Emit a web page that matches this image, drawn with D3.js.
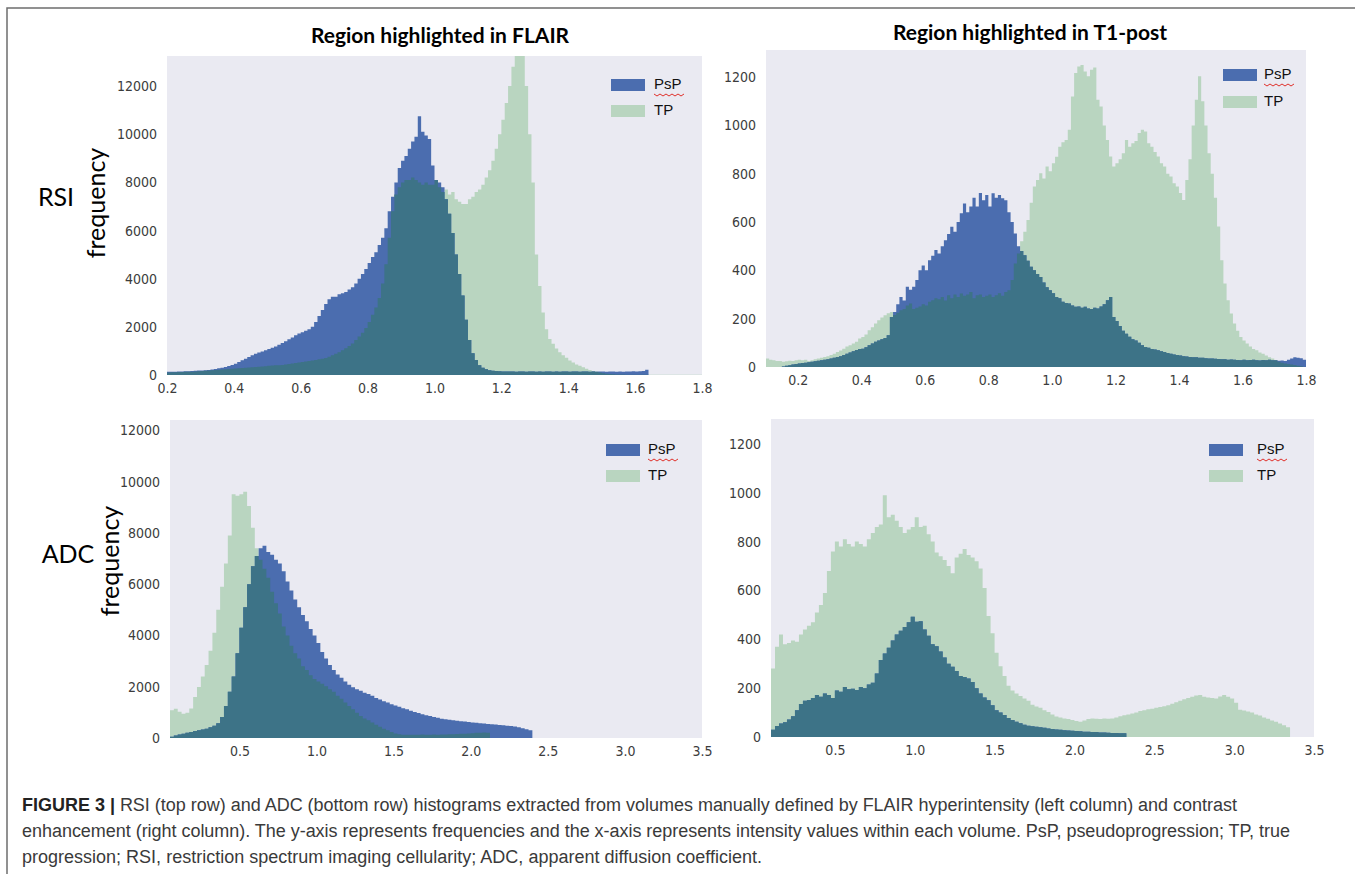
<!DOCTYPE html>
<html>
<head>
<meta charset="utf-8">
<script src="https://cdn.jsdelivr.net/npm/d3@7/dist/d3.min.js"></script>
<style>
  body { margin: 0; background: #fff; }
  .tick text { font-family: "Liberation Sans Narrow", "DejaVu Sans Condensed", sans-serif; font-stretch: condensed; font-size: 14px; fill: #3c3c3c; }
  .legend text { font-family: "Liberation Sans", Arial, sans-serif; font-size: 15px; fill: #111; }
  .title { font-family: Lato, "Open Sans", sans-serif; font-weight: 700; font-size: 21px; fill: #000; }
  .rowlabel { font-family: Lato, "Open Sans", sans-serif; font-size: 25px; fill: #000; }
  .caption { font-family: "Liberation Sans", Arial, sans-serif; font-size: 18px; fill: #3a3a3a; }
</style>
</head>
<body>
<svg id="figure" width="1355" height="874"></svg>
<script>
// histogram bins: each series starts at binStart and steps by binStep

// RSI, region from FLAIR (bins of 0.01 from 0.20)
const rsiFlairStart = 0.20, rsiFlairStep = 0.01;
const rsiFlairPsP = [
  130,140,140,150,150,160,160,170,180,185,
  190,200,210,230,250,280,300,330,370,420,
  470,540,610,680,750,820,880,930,980,1030,
  1080,1130,1180,1260,1330,1400,1480,1560,1650,1720,
  1780,1840,1900,2000,2200,2450,2700,2950,3150,3250,
  3250,3350,3400,3450,3550,3650,3800,4000,4200,4400,
  4650,4900,5100,5400,5700,6100,6800,7400,8000,8600,
  8900,9100,9400,9700,9900,10750,10100,9950,9800,8700,
  8100,8000,7800,7300,6700,5900,5000,4200,3300,2300,
  1450,900,620,400,300,240,200,180,170,160,
  150,150,150,150,140,150,150,140,150,150,
  140,150,140,150,150,140,150,140,150,150,
  140,150,150,140,150,150,140,150,140,150,
  150,140,150,150,140,150,140,150,150,160,
  150,160,170,220
];
const rsiFlairTP = [
  100,110,110,120,120,130,140,140,150,160,
  170,180,190,200,210,220,230,240,250,260,
  270,280,290,300,310,320,330,340,350,360,
  380,390,400,410,420,440,460,480,500,520,
  540,560,580,600,620,650,680,710,760,820,
  880,950,1030,1110,1200,1310,1450,1600,1750,1950,
  2200,2500,2800,3200,3800,4600,5700,6800,7500,7800,
  8000,8100,8100,8200,8100,8000,7900,8000,7900,7900,
  8100,7800,7600,7700,7500,7600,7300,7200,7100,7100,
  7300,7400,7600,7700,7900,8200,8500,8900,9400,10000,
  10600,11300,12000,12800,13400,13600,13300,12000,10000,8000,
  5000,3700,2600,1900,1500,1300,1100,950,820,720,
  600,520,440,380,320,260,210,170,130,100,
  70,50,40,30,25,20,20,15,15,15,
  15,15,15,10,10,10,10,10,10,10,
  10,10,10,10,10,10,10,10,10,10
];

// RSI, region from T1-post (bins of 0.01 from 0.10)
const rsiT1Start = 0.10, rsiT1Step = 0.01;
const rsiT1PsP = [
  0,0,0,0,0,2,5,7,10,12,
  15,17,18,20,22,24,26,28,30,32,
  35,38,41,45,50,55,60,65,70,75,
  76,82,90,97,105,110,115,120,131,207,
  228,260,290,275,332,320,332,360,400,420,
  400,442,460,484,470,500,525,550,580,560,
  600,636,677,640,664,700,664,720,690,712,
  664,719,700,712,698,690,640,600,553,500,
  480,463,440,415,400,385,373,350,330,318,
  305,290,285,270,265,263,255,249,250,245,
  249,242,240,245,242,250,260,276,290,207,
  190,170,150,138,125,115,110,100,90,83,
  80,75,72,69,65,62,58,55,52,50,
  48,45,43,41,40,40,38,38,36,35,
  35,34,33,32,32,30,31,30,29,28,
  30,28,29,30,28,27,29,28,30,28,
  28,26,27,25,30,35,40,38,36,30
];
const rsiT1TP = [
  35,30,28,25,25,22,24,26,25,28,
  30,28,30,25,28,32,35,38,41,45,
  50,55,62,68,76,85,90,97,105,118,
  124,135,152,165,180,194,205,214,222,228,
  215,225,235,240,255,263,240,245,250,260,
  255,270,276,285,280,290,275,297,285,300,
  290,304,295,300,310,285,297,300,290,295,
  300,290,297,305,295,310,318,360,428,470,
  520,560,608,680,747,774,802,780,830,810,
  843,870,912,930,940,982,1120,1217,1244,1250,
  1223,1203,1230,1240,1106,1078,1000,940,871,830,
  843,860,885,940,912,926,935,968,982,975,
  926,912,890,871,843,830,800,788,760,747,
  720,691,774,860,1000,1106,1203,1100,1000,885,
  800,700,581,442,346,276,221,180,150,124,
  110,97,85,75,69,60,55,48,40,35,
  28,22,18,15,12,10,8,5,3,0
];

// ADC, region from FLAIR (bins of 0.025 from 0.05)
const adcFlairStart = 0.05, adcFlairStep = 0.025;
const adcFlairPsP = [
  50,100,140,170,200,230,270,300,330,360,
  420,480,580,820,1250,1800,2400,3300,4300,5100,
  6000,6700,7100,7400,7500,7250,7150,6950,6800,6500,
  6100,5750,5400,5100,4800,4550,4250,4000,3700,3350,
  3100,2850,2650,2480,2350,2200,2080,1980,1900,1840,
  1760,1720,1650,1560,1500,1430,1380,1320,1270,1220,
  1160,1120,1060,1010,970,930,890,860,820,790,
  750,730,710,690,670,650,640,620,600,590,
  580,570,550,540,530,510,500,480,470,450,
  420,380,340,300
];
const adcFlairTP = [
  1080,1140,1020,950,980,1150,1600,1990,2400,2850,
  3400,4100,5000,5900,6800,7900,9500,9450,9500,9600,
  9050,8200,7400,6950,6600,6250,5700,5250,4850,4350,
  4000,3600,3300,3100,2800,2650,2450,2300,2200,2120,
  2020,1900,1800,1650,1530,1380,1250,1120,980,860,
  760,690,600,520,440,360,300,230,180,150,
  130,130,130,130,130,140,130,130,140,130,
  140,140,150,150,160,170,170,180,190,200,
  200,210,200
];

// ADC, region from T1-post (bins of 0.025 from 0.10)
const adcT1Start = 0.10, adcT1Step = 0.025;
const adcT1PsP = [
  30,45,55,60,72,85,110,135,148,152,
  160,172,165,178,172,160,190,185,205,195,
  198,192,205,200,215,222,260,315,342,365,
  395,420,435,450,470,492,472,474,440,415,
  380,372,350,325,300,288,270,250,246,240,
  225,200,178,162,150,130,110,100,90,78,
  70,62,56,50,46,44,42,40,38,35,
  33,31,30,28,27,26,25,24,22,21,
  20,20,18,18,17,16,16,15,15
];
const adcT1TP = [
  280,370,420,380,385,395,390,420,440,455,
  470,510,540,590,680,760,800,780,810,790,
  780,800,790,780,810,835,860,870,990,900,
  910,885,860,835,850,860,900,860,865,830,
  800,755,740,725,700,670,735,750,770,745,
  735,720,690,610,495,425,345,290,250,210,
  190,178,168,158,148,132,125,120,110,102,
  92,84,80,76,74,70,66,62,68,74,
  76,75,74,76,75,76,80,85,89,92,
  96,100,106,110,114,116,120,123,126,130,
  136,142,148,155,160,165,170,172,165,162,
  160,158,166,172,165,158,140,112,108,104,
  100,92,88,80,75,68,62,55,48,40
];

// tick labels
const rsiXTicks = [0.2, 0.4, 0.6, 0.8, 1.0, 1.2, 1.4, 1.6, 1.8];
const adcXTicks = [0.5, 1.0, 1.5, 2.0, 2.5, 3.0, 3.5];
const flairYTicks = [0, 2000, 4000, 6000, 8000, 10000, 12000];
const t1YTicks = [0, 200, 400, 600, 800, 1000, 1200];
const seriesNames = ["PsP", "TP"];
const columnTitles = ["Region highlighted in FLAIR", "Region highlighted in T1-post"];
const rowNames = ["RSI", "ADC"];
const captionBold = "FIGURE 3 |";
const captionLines = [
  " RSI (top row) and ADC (bottom row) histograms extracted from volumes manually defined by FLAIR hyperintensity (left column) and contrast",
  "enhancement (right column). The y-axis represents frequencies and the x-axis represents intensity values within each volume. PsP, pseudoprogression; TP, true",
  "progression; RSI, restriction spectrum imaging cellularity; ADC, apparent diffusion coefficient."
];
const captionWidths = [1215, 1268, 740];

const colors = { psp: "#4b6daf", tp: "#b9d5c0", both: "#3d7387", bg: "#eaeaf2" };

const svg = d3.select("svg#figure");

// frame round the figure
svg.append("path")
  .attr("d", "M7,880 V8 H1360")
  .attr("fill", "none")
  .attr("stroke", "#6e6e6e")
  .attr("stroke-width", 1.5);

const panels = [
  { id: "rsiFlair", psp: rsiFlairPsP, tp: rsiFlairTP, start: rsiFlairStart, step: rsiFlairStep,
    xDomain: [0.2, 1.8], yMax: 13250, xTicks: rsiXTicks, yTicks: flairYTicks,
    left: 167, right: 702, top: 56, bottom: 375, legend: { x: 611, y: 79, gap: 26, textX: 654 } },
  { id: "rsiT1", psp: rsiT1PsP, tp: rsiT1TP, start: rsiT1Start, step: rsiT1Step,
    xDomain: [0.1, 1.8], yMax: 1312, xTicks: rsiXTicks, yTicks: t1YTicks,
    left: 766, right: 1306, top: 50, bottom: 367, legend: { x: 1223, y: 69, gap: 27, textX: 1264 } },
  { id: "adcFlair", psp: adcFlairPsP, tp: adcFlairTP, start: adcFlairStart, step: adcFlairStep,
    xDomain: [0.05, 3.5], yMax: 12400, xTicks: adcXTicks, yTicks: flairYTicks,
    left: 170, right: 702, top: 420, bottom: 738, legend: { x: 606, y: 444, gap: 26, textX: 648 } },
  { id: "adcT1", psp: adcT1PsP, tp: adcT1TP, start: adcT1Start, step: adcT1Step,
    xDomain: [0.1, 3.5], yMax: 1302, xTicks: adcXTicks, yTicks: t1YTicks,
    left: 771, right: 1314, top: 419, bottom: 737, legend: { x: 1209, y: 444, gap: 26, textX: 1257 } }
];

panels.forEach(p => {
  const x = d3.scaleLinear().domain(p.xDomain).range([p.left, p.right]);
  const y = d3.scaleLinear().domain([0, p.yMax]).range([p.bottom, p.top]);

  svg.append("rect")
    .attr("x", p.left).attr("y", p.top)
    .attr("width", p.right - p.left).attr("height", p.bottom - p.top)
    .attr("fill", colors.bg);

  svg.append("clipPath").attr("id", "clip-" + p.id)
    .append("rect")
    .attr("x", p.left).attr("y", p.top)
    .attr("width", p.right - p.left).attr("height", p.bottom - p.top);

  const g = svg.append("g").attr("clip-path", "url(#clip-" + p.id + ")");

  // a histogram as one stepped area, bins left-aligned
  const stepArea = values => {
    let pts = values.map((v, i) => [p.start + i * p.step, v]);
    pts.push([p.start + values.length * p.step, values[values.length - 1]]);
    return d3.area()
      .x(d => x(d[0]))
      .y0(y(0))
      .y1(d => y(d[1]))
      .curve(d3.curveStepAfter)(pts);
  };

  // where both histograms overlap the translucent colours mix into a dark teal
  const n = Math.min(p.psp.length, p.tp.length);
  const overlap = d3.range(n).map(i => Math.min(p.psp[i], p.tp[i]));

  g.append("path").attr("d", stepArea(p.tp)).attr("fill", colors.tp);
  g.append("path").attr("d", stepArea(p.psp)).attr("fill", colors.psp);
  g.append("path").attr("d", stepArea(overlap)).attr("fill", colors.both);

  // axes without lines or tick marks, like seaborn with the grid off
  let leftAxis = d3.axisLeft(y).tickValues(p.yTicks).tickSize(0).tickPadding(10).tickFormat(d3.format("d"));
  svg.append("g").attr("class", "y axis")
    .attr("transform", "translate(" + p.left + ",0)")
    .call(leftAxis)
    .call(a => a.select(".domain").remove());

  let bottomAxis = d3.axisBottom(x).tickValues(p.xTicks).tickSize(0).tickPadding(8).tickFormat(d3.format(".1f"));
  svg.append("g").attr("class", "x axis")
    .attr("transform", "translate(0," + p.bottom + ")")
    .call(bottomAxis)
    .call(a => a.select(".domain").remove());

  // legend
  const lg = svg.append("g").attr("class", "legend");
  seriesNames.forEach((name, i) => {
    lg.append("rect")
      .attr("x", p.legend.x).attr("y", p.legend.y + i * p.legend.gap)
      .attr("width", 34).attr("height", 12)
      .attr("fill", i === 0 ? colors.psp : colors.tp);
    lg.append("text")
      .attr("x", p.legend.textX).attr("y", p.legend.y + i * p.legend.gap + 10)
      .text(name);
  });
  // red spell-check squiggle under "PsP"
  const wave = d3.range(0, 11).map(k => [p.legend.textX + k * 3, p.legend.y + 15 + (k % 2 ? 2 : 0)]);
  lg.append("path")
    .attr("d", d3.line()(wave))
    .attr("fill", "none").attr("stroke", "#e0302a").attr("stroke-width", 1);
});

// column titles
svg.append("text").attr("class", "title")
  .attr("x", 440).attr("y", 43).attr("text-anchor", "middle")
  .text(columnTitles[0]);
svg.append("text").attr("class", "title")
  .attr("x", 1030).attr("y", 40).attr("text-anchor", "middle")
  .text(columnTitles[1]);

// row labels and y-axis titles
svg.append("text").attr("class", "rowlabel")
  .attr("x", 56).attr("y", 206).attr("text-anchor", "middle")
  .text(rowNames[0]);
svg.append("text").attr("class", "rowlabel")
  .attr("x", 68).attr("y", 563).attr("text-anchor", "middle")
  .text(rowNames[1]);
svg.append("text").attr("class", "rowlabel")
  .attr("transform", "translate(105,203) rotate(-90)")
  .attr("text-anchor", "middle")
  .text("frequency");
svg.append("text").attr("class", "rowlabel")
  .attr("transform", "translate(119,561) rotate(-90)")
  .attr("text-anchor", "middle")
  .text("frequency");

// caption
const cap = svg.append("g");
const line1 = cap.append("text").attr("class", "caption").attr("x", 22).attr("y", 811)
  .attr("textLength", captionWidths[0]);
line1.append("tspan").attr("font-weight", 700).attr("fill", "#222").text(captionBold);
line1.append("tspan").text(captionLines[0]);
cap.append("text").attr("class", "caption").attr("x", 22).attr("y", 837)
  .attr("textLength", captionWidths[1]).text(captionLines[1]);
cap.append("text").attr("class", "caption").attr("x", 22).attr("y", 863)
  .attr("textLength", captionWidths[2]).text(captionLines[2]);
</script>
</body>
</html>
